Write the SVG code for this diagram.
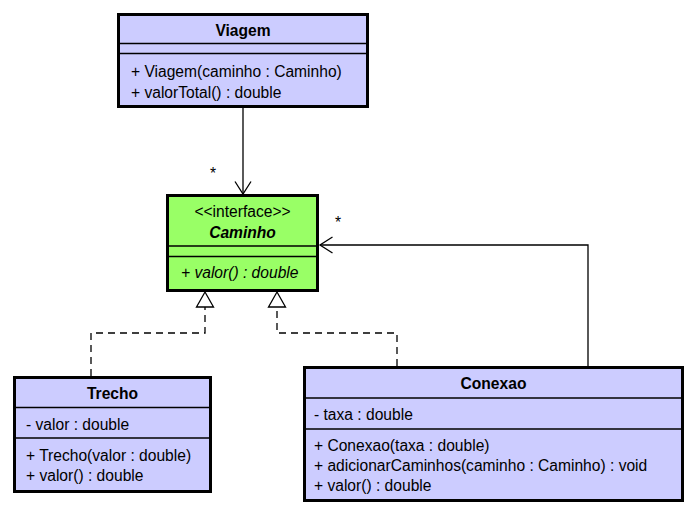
<svg xmlns="http://www.w3.org/2000/svg" width="697" height="516" viewBox="0 0 697 516">
<style>
text{font-family:"Liberation Sans",Arial,sans-serif;font-size:15.6px;fill:#000}
.t{font-weight:bold;text-anchor:middle}
.c{text-anchor:middle}
.i{font-style:italic}
.box{stroke:#000;stroke-width:3}
.blue{fill:#CCCCFF}
.green{fill:#99FF66}
.sep{stroke:#000;stroke-width:1.3}
.ln{fill:none;stroke:#000;stroke-width:1.3}
.dash{fill:none;stroke:#000;stroke-width:1.3;stroke-dasharray:7 5}
.tri{fill:#fff;stroke:#000;stroke-width:1.3}
</style>
<rect width="697" height="516" fill="#fff"/>
<g id="connectors">
<path class="ln" d="M243 108V194"/>
<path class="ln" d="M235 181.5L243 194L251 181.5"/>
<text x="213" y="179" class="c">*</text>
<path class="ln" d="M588 366V245H320"/>
<path class="ln" d="M332.5 237L320 245L332.5 253"/>
<text x="338" y="228" class="c">*</text>
<path class="dash" d="M91 376V333H205V307"/>
<path class="tri" d="M205 292L196.5 307H213.5Z"/>
<path class="dash" d="M397 366V333H277V307"/>
<path class="tri" d="M277 292L268.5 307H285.5Z"/>
</g>
<g id="Viagem">
<rect class="box blue" x="118.5" y="14.5" width="249" height="92"/>
<path class="sep" d="M118 43.5H368M118 53.5H368"/>
<text x="243" y="35.5" class="t">Viagem</text>
<text x="131" y="76.5">+ Viagem(caminho : Caminho)</text>
<text x="131" y="97.5">+ valorTotal() : double</text>
</g>
<g id="Caminho">
<rect class="box green" x="167.5" y="195.5" width="150" height="95"/>
<path class="sep" d="M167 246H318M167 256.5H318"/>
<text x="242.5" y="217" class="c">&lt;&lt;interface&gt;&gt;</text>
<text x="242.5" y="237.5" class="t i">Caminho</text>
<text x="181" y="277.5" class="i">+ valor() : double</text>
</g>
<g id="Trecho">
<rect class="box blue" x="14.5" y="377.5" width="196" height="114"/>
<path class="sep" d="M14 407.5H211M14 438H211"/>
<text x="112.5" y="398.5" class="t">Trecho</text>
<text x="26" y="429.5">- valor : double</text>
<text x="26" y="460.5">+ Trecho(valor : double)</text>
<text x="26" y="481">+ valor() : double</text>
</g>
<g id="Conexao">
<rect class="box blue" x="304.5" y="367.5" width="378" height="133"/>
<path class="sep" d="M304 398H683M304 429H683"/>
<text x="493.5" y="388.5" class="t">Conexao</text>
<text x="314" y="419.5">- taxa : double</text>
<text x="314" y="450.5">+ Conexao(taxa : double)</text>
<text x="314" y="471">+ adicionarCaminhos(caminho : Caminho) : void</text>
<text x="314" y="491">+ valor() : double</text>
</g>
</svg>
